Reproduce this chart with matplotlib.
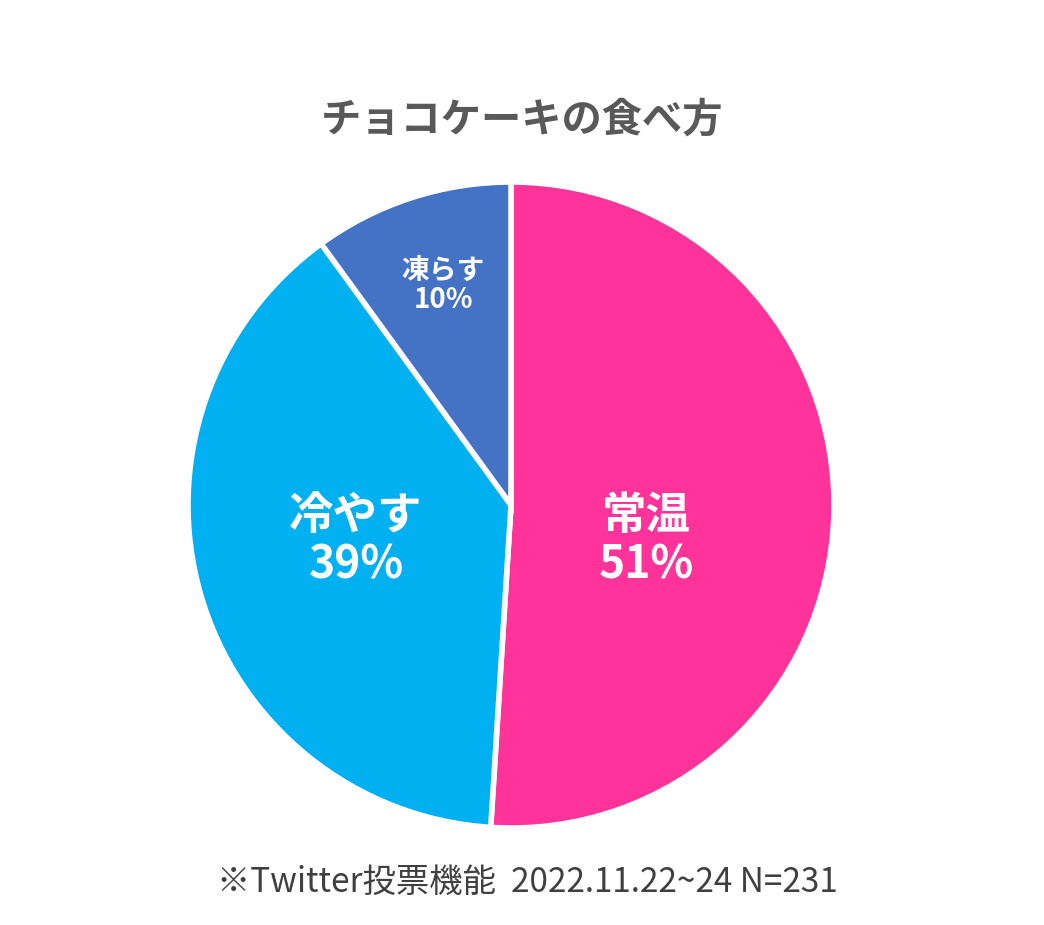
import matplotlib
matplotlib.use("Agg")
import matplotlib.pyplot as plt

categories = ["常温", "冷やす", "凍らす"]
values = [51, 39, 10]
colors = ["#FF3399", "#00B0F0", "#4472C4"]
label_pos = [(0.42, -0.11), (-0.48, -0.11), (-0.21, 0.68)]
label_sizes = [32, 32, 20]

plt.rcParams["font.family"] = "Noto Sans CJK JP"
fig = plt.figure(figsize=(10.44, 9.25), dpi=100)
fig.patch.set_facecolor("white")
cx, cy, r = 511/1044, 1-505/925, 323
ax = fig.add_axes([cx - r/1044, cy - r/925, 2*r/1044, 2*r/925])
ax.pie(values, colors=colors, startangle=90, counterclock=False, radius=1,
       wedgeprops=dict(edgecolor="white", linewidth=4))
ax.set_xlim(-1, 1); ax.set_ylim(-1, 1); ax.set_aspect("auto"); ax.axis("off")
for c, v, (x, y), s in zip(categories, values, label_pos, label_sizes):
    ax.text(x, y, f"{c}\n{v}%", ha="center", va="center", color="white",
            fontsize=s, fontweight="bold", linespacing=1.1)

fig.text(0.5, 1-120/925, "チョコケーキの食べ方", ha="center", va="center",
         fontsize=29, fontweight="bold", color="#595959")
fig.text(0.505, 1-882/925, "※Twitter投票機能  2022.11.22~24 N=231", ha="center",
         va="center", fontsize=24, color="#404040")
fig.savefig("out.png", dpi=100)
